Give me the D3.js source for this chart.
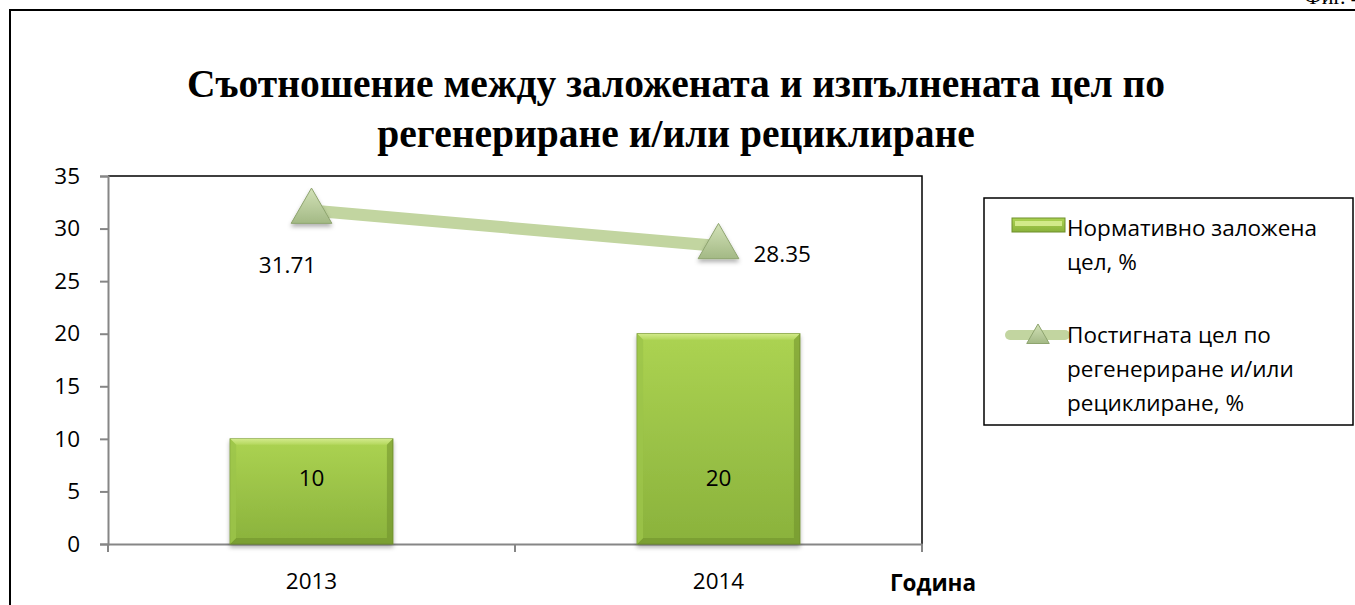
<!DOCTYPE html>
<html>
<head>
<meta charset="utf-8">
<script src="https://cdn.jsdelivr.net/npm/d3@7"></script>
<style>
  body { margin: 0; background: #fff; }
  text { font-family: "Open Sans", sans-serif; }
</style>
</head>
<body>
<div id="chart"></div>
<script>
// данни
var years = ["2013", "2014"];
var normValues = [10, 20];          // Нормативно заложена цел, %
var achievedValues = [31.71, 28.35]; // Постигната цел
var yTicks = [0, 5, 10, 15, 20, 25, 30, 35];
var titleLines = ["Съотношение между заложената и изпълнената цел по", "регенериране и/или рециклиране"];
var legendNames = [["Нормативно заложена", "цел, %"], ["Постигната цел по", "регенериране и/или", "рециклиране, %"]];

var W = 1355, H = 605;
var plot = { left: 108, top: 176, right: 922, bottom: 544 };
var fs = "22.5px";

var svg = d3.select("#chart").append("svg")
    .attr("width", W)
    .attr("height", H);

var defs = svg.append("defs");

// градиент за колоните
var barGrad = defs.append("linearGradient").attr("id", "barGrad")
    .attr("x1", 0).attr("y1", 0).attr("x2", 0).attr("y2", 1);
barGrad.append("stop").attr("offset", "0%").attr("stop-color", "#acd352");
barGrad.append("stop").attr("offset", "100%").attr("stop-color", "#8ab23c");

var bevelL = defs.append("linearGradient").attr("id", "bevelTop")
    .attr("x1", 0).attr("y1", 0).attr("x2", 0).attr("y2", 1);
bevelL.append("stop").attr("offset", "0%").attr("stop-color", "#d2ea8a");
bevelL.append("stop").attr("offset", "100%").attr("stop-color", "#b3d75c");

// градиент за триъгълниците
var triGrad = defs.append("linearGradient").attr("id", "triGrad")
    .attr("x1", 0).attr("y1", 0).attr("x2", 0).attr("y2", 1);
triGrad.append("stop").attr("offset", "0%").attr("stop-color", "#d3e2b8");
triGrad.append("stop").attr("offset", "100%").attr("stop-color", "#a3b985");

var shadow = defs.append("filter").attr("id", "shadow")
    .attr("x", "-30%").attr("y", "-30%").attr("width", "160%").attr("height", "160%");
shadow.append("feDropShadow").attr("dx", 0).attr("dy", 3).attr("stdDeviation", 2)
    .attr("flood-color", "#000").attr("flood-opacity", 0.3);

// външна рамка
svg.append("rect")
    .attr("x", 10).attr("y", 10)
    .attr("width", W + 20).attr("height", H + 20)
    .attr("fill", "none").attr("stroke", "#000").attr("stroke-width", 2);

// Фиг. (отрязан горе, както в оригинала)
svg.append("text")
    .attr("x", 1362).attr("y", 4)
    .attr("text-anchor", "end")
    .style("font-family", "Liberation Serif")
    .style("font-size", "22px")
    .text("Фиг. 4");

// заглавие
svg.selectAll(".title").data(titleLines).enter()
    .append("text")
    .attr("class", "title")
    .attr("x", 676)
    .attr("y", (d, i) => 97 + i * 50)
    .attr("text-anchor", "middle")
    .style("font-family", "Liberation Serif")
    .style("font-weight", "bold")
    .style("font-size", "39.5px")
    .text(d => d);

// скали
var x = d3.scaleBand().domain(years).range([plot.left, plot.right]);
var y = d3.scaleLinear().domain([0, 35]).range([plot.bottom, plot.top]);

// рамка на графиката (горе и вдясно)
svg.append("path")
    .attr("d", "M" + plot.left + "," + plot.top + "H" + plot.right + "V" + plot.bottom)
    .attr("fill", "none").attr("stroke", "#000").attr("stroke-width", 1.5);

// Y ос
var yAxis = svg.append("g")
    .attr("transform", "translate(" + plot.left + ",0)")
    .call(d3.axisLeft(y).tickValues(yTicks).tickSize(8).tickPadding(20));
yAxis.select(".domain").attr("stroke", "#868686").attr("stroke-width", 2);
yAxis.selectAll(".tick line").attr("stroke", "#868686").attr("stroke-width", 2);
yAxis.selectAll(".tick text")
    .style("font-family", "Open Sans").style("font-size", fs).attr("fill", "#000");

// X ос
var xAxis = svg.append("g")
    .attr("transform", "translate(0," + plot.bottom + ")")
    .call(d3.axisBottom(x).tickSize(0).tickPadding(29));
xAxis.select(".domain").attr("stroke", "#868686").attr("stroke-width", 2);
xAxis.selectAll(".tick text")
    .style("font-family", "Open Sans").style("font-size", fs).attr("fill", "#000");
// делителни черти между категориите
var xDividers = [plot.left].concat(years.map(d => x(d) + x.bandwidth()));
svg.selectAll(".xdiv").data(xDividers).enter()
    .append("line")
    .attr("x1", d => d).attr("x2", d => d)
    .attr("y1", plot.bottom).attr("y2", plot.bottom + 8)
    .attr("stroke", "#868686").attr("stroke-width", 2);

svg.append("text")
    .attr("x", 933).attr("y", 591)
    .attr("text-anchor", "middle")
    .style("font-weight", "bold").style("font-size", fs)
    .text("Година");

// колони
var barW = x.bandwidth() * 0.4;
var bars = svg.selectAll(".bar").data(normValues).enter()
    .append("g").attr("class", "bar");
bars.append("rect")
    .attr("x", (d, i) => x(years[i]) + (x.bandwidth() - barW) / 2)
    .attr("y", d => y(d))
    .attr("width", barW)
    .attr("height", d => y(0) - y(d))
    .attr("fill", "url(#barGrad)")
    .attr("stroke", "#6f8f2c").attr("stroke-width", 1)
    .attr("filter", "url(#shadow)");
// скосен горен ръб
bars.append("path")
    .attr("d", (d, i) => {
        var x0 = x(years[i]) + (x.bandwidth() - barW) / 2, y0 = y(d), b = 6;
        return "M" + x0 + "," + y0 + "H" + (x0 + barW) + "L" + (x0 + barW - b) + "," + (y0 + b) +
            "H" + (x0 + b) + "Z";
    })
    .attr("fill", "url(#bevelTop)");
// тъмни странични ръбове
bars.append("path")
    .attr("d", (d, i) => {
        var x0 = x(years[i]) + (x.bandwidth() - barW) / 2, y0 = y(d), y1 = y(0), b = 6;
        return "M" + (x0 + barW) + "," + y0 + "V" + y1 + "H" + x0 + "L" + (x0 + b) + "," + (y1 - b) +
            "H" + (x0 + barW - b) + "V" + (y0 + b) + "Z";
    })
    .attr("fill", "#6f8f2c").attr("opacity", 0.55);
bars.append("path")
    .attr("d", (d, i) => {
        var x0 = x(years[i]) + (x.bandwidth() - barW) / 2, y0 = y(d), y1 = y(0), b = 6;
        return "M" + x0 + "," + y0 + "V" + y1 + "L" + (x0 + b) + "," + (y1 - b) + "V" + (y0 + b) + "Z";
    })
    .attr("fill", "#9cc44a").attr("opacity", 0.8);
// етикети при основата на колоните
bars.append("text")
    .attr("x", (d, i) => x(years[i]) + x.bandwidth() / 2)
    .attr("y", y(0) - 58)
    .attr("text-anchor", "middle")
    .style("font-size", fs)
    .text(d => d);

// линия
var line = d3.line()
    .x((d, i) => x(years[i]) + x.bandwidth() / 2)
    .y(d => y(d));
svg.append("path")
    .datum(achievedValues)
    .attr("d", line)
    .attr("fill", "none")
    .attr("stroke", "#c2d5a0")
    .attr("stroke-width", 12);

var tri = d3.symbol().type(d3.symbolTriangle).size(720);
svg.selectAll(".marker").data(achievedValues).enter()
    .append("path")
    .attr("class", "marker")
    .attr("d", tri)
    .attr("transform", (d, i) => "translate(" + (x(years[i]) + x.bandwidth() / 2) + "," + (y(d) + 1) + ")")
    .attr("fill", "url(#triGrad)")
    .attr("stroke", "#8ea46f").attr("stroke-width", 1)
    .attr("filter", "url(#shadow)");

// етикети на линията
var labelPos = [{ dx: -24, dy: 62, anchor: "middle" }, { dx: 35, dy: 16, anchor: "start" }];
svg.selectAll(".lineLabel").data(achievedValues).enter()
    .append("text")
    .attr("x", (d, i) => x(years[i]) + x.bandwidth() / 2 + labelPos[i].dx)
    .attr("y", (d, i) => y(d) + labelPos[i].dy)
    .attr("text-anchor", (d, i) => labelPos[i].anchor)
    .style("font-size", fs)
    .text(d => d.toFixed(2));

// легенда
var legend = svg.append("g");
legend.append("rect")
    .attr("x", 984).attr("y", 198)
    .attr("width", 369).attr("height", 227)
    .attr("fill", "#fff").attr("stroke", "#000").attr("stroke-width", 1.5);

legend.append("rect")
    .attr("x", 1012).attr("y", 218).attr("width", 53).attr("height", 14)
    .attr("fill", "url(#barGrad)").attr("stroke", "#6f8f2c");
legend.append("rect")
    .attr("x", 1015).attr("y", 221).attr("width", 47).attr("height", 5)
    .attr("fill", "#d2ea8a");

legend.append("line")
    .attr("x1", 1010).attr("x2", 1065).attr("y1", 335).attr("y2", 335)
    .attr("stroke", "#c2d5a0").attr("stroke-width", 10).attr("stroke-linecap", "round");
legend.append("path")
    .attr("d", d3.symbol().type(d3.symbolTriangle).size(220))
    .attr("transform", "translate(1038,337)")
    .attr("fill", "url(#triGrad)").attr("stroke", "#8ea46f");

var legendStartY = [236, 343];
legendNames.forEach(function (lines, k) {
    legend.selectAll(".lt" + k).data(lines).enter()
        .append("text")
        .attr("x", 1067)
        .attr("y", (d, i) => legendStartY[k] + i * 34)
        .style("font-size", fs)
        .text(d => d);
});
</script>
</body>
</html>
